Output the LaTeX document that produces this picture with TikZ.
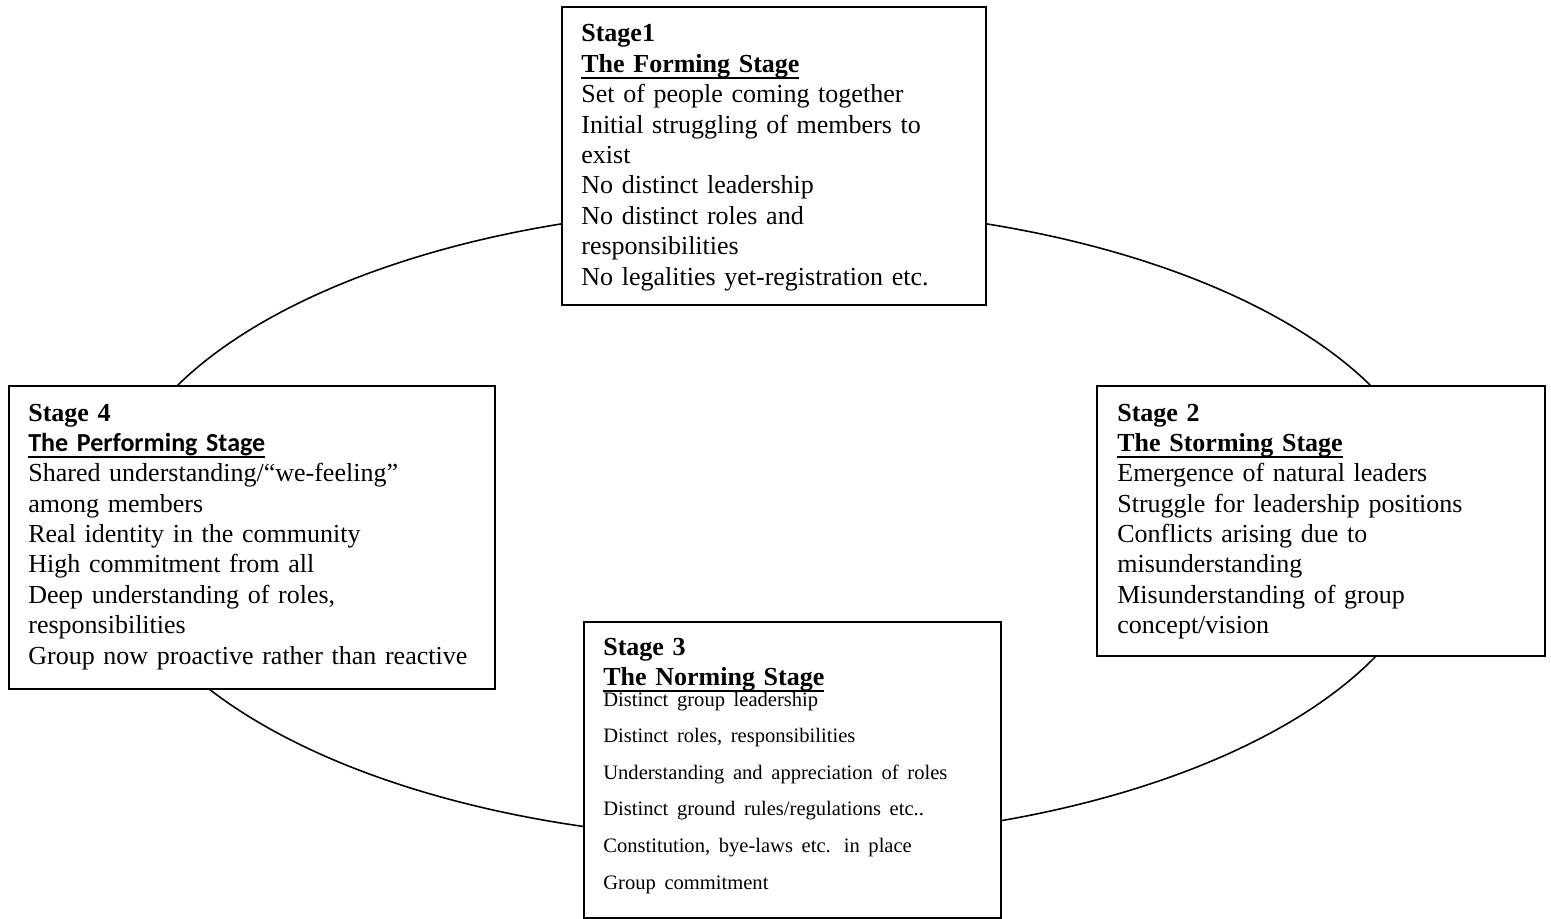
\documentclass[tikz,border=0pt]{standalone}
\usepackage{fontspec}
\setmainfont{Liberation Serif}
\newfontfamily\calibrifont{Carlito}
\usetikzlibrary{positioning,calc}
\newcommand{\stageul}[1]{\leavevmode\setbox0\hbox{#1}\rlap{\rule[-3.7pt]{\wd0}{1.3pt}}\box0}
\tikzset{%
  stage frame/.style={
    draw,
    fill=white,
    line width=1.1pt,
    anchor=north west,
    inner sep=0pt
  },
  stage text/.style={
    anchor=base west,
    inner sep=0pt,
    text width=9.2cm,
    align=left,
    font=\fontsize{14.8pt}{17.3pt}\selectfont
  },
}

\begin{document}
\begin{tikzpicture}[x=0.02cm, y=-0.02cm]
        \useasboundingbox (0,0) rectangle (1551,919);
        \coordinate (centre) at (774,523.5);
        \draw [line width=0.9pt] (centre) ellipse [x radius=13.26cm, y radius=6.326cm];

        \foreach \n/\x/\y/\w/\h in {1/561/6/424/298, 2/1096/385/448/270, 3/583/621/417/296, 4/8/385/486/303}
          \node [stage frame, minimum width=\w*0.02cm, minimum height=\h*0.02cm] (stage-\n) at (\x,\y) {};

        \node [stage text] (text-1) at ([shift={(20,36)}]stage-1.north west) {%
          {\bfseries Stage1}\\
          {\bfseries\stageul{The Forming Stage}}\\
          Set of people coming together\\
          Initial struggling of members to\\
          exist\\
          No distinct leadership\\
          No distinct roles and\\
          responsibilities\\
          No legalities yet-registration etc.};
        \node [stage text] (text-2) at ([shift={(21,36)}]stage-2.north west) {%
          {\bfseries Stage 2}\\
          {\bfseries\stageul{The Storming Stage}}\\
          Emergence of natural leaders\\
          Struggle for leadership positions\\
          Conflicts arising due to\\
          misunderstanding\\
          Misunderstanding of group\\
          concept/vision};
        \node [stage text] (text-3) at ([shift={(20,34)}]stage-3.north west) {%
          \lineskiplimit=-100pt
          {\bfseries Stage 3}\\
          {\bfseries\stageul{The Norming Stage}}\par
          \vspace{-8.9pt}
          {\fontsize{11.7pt}{20.8pt}\selectfont
          Distinct group leadership\\
          Distinct roles, responsibilities\\
          Understanding and appreciation of roles\\
          Distinct ground rules/regulations etc..\\
          Constitution, bye-laws etc. in place\\
          Group commitment\par}};
        \node [stage text] (text-4) at ([shift={(20,36)}]stage-4.north west) {%
          {\bfseries Stage 4}\\
          {\calibrifont\bfseries\stageul{The Performing Stage}}\\
          Shared understanding/“we-feeling”\\
          among members\\
          Real identity in the community\\
          High commitment from all\\
          Deep understanding of roles,\\
          responsibilities\\
          Group now proactive rather than reactive};
\end{tikzpicture}
\end{document}
